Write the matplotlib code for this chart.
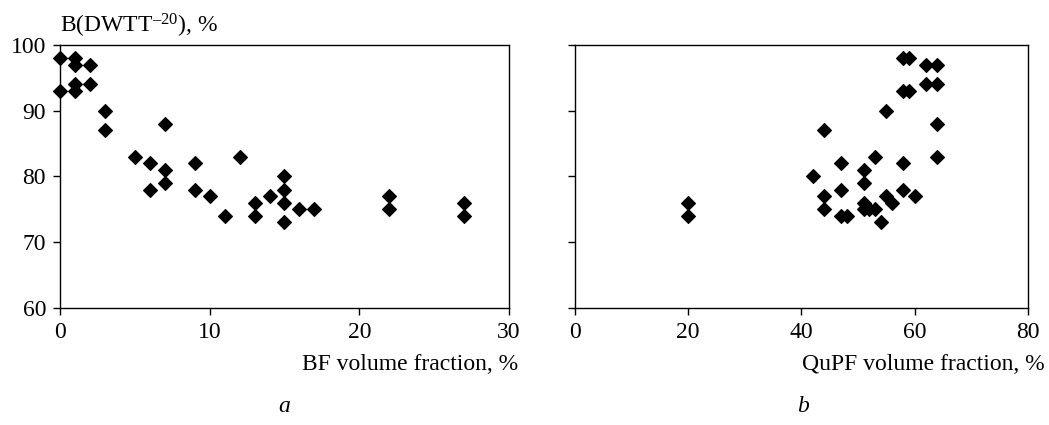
import matplotlib
matplotlib.use("Agg")
import matplotlib.pyplot as plt

plt.rcParams["font.family"] = ["Liberation Serif", "DejaVu Serif"]
plt.rcParams["font.size"] = 17
plt.rcParams["mathtext.fontset"] = "custom"
plt.rcParams["mathtext.rm"] = "Liberation Serif"
plt.rcParams["mathtext.it"] = "Liberation Serif:italic"

# (a) brittle fracture share vs bainitic ferrite fraction
bf_frac = [0, 0, 1, 1, 1, 1, 2, 2, 3, 3, 5, 6, 6, 7, 7, 7, 9, 9, 10, 11,
           12, 13, 13, 14, 15, 15, 15, 15, 16, 17, 22, 22, 27, 27]
bf_b = [98, 93, 98, 97, 94, 93, 97, 94, 90, 87, 83, 82, 78, 88, 81, 79, 82, 78, 77, 74,
        83, 76, 74, 77, 80, 78, 76, 73, 75, 75, 77, 75, 76, 74]

# (b) same vs quasi-polygonal ferrite fraction
qupf_frac = [20, 20, 42, 44, 44, 44, 47, 47, 47, 48, 51, 51, 51, 51, 52, 53, 53, 54,
             55, 55, 56, 58, 58, 58, 58, 59, 59, 60, 62, 62, 64, 64, 64, 64]
qupf_b = [76, 74, 80, 87, 77, 75, 82, 78, 74, 74, 81, 79, 76, 75, 75, 75, 83, 73,
          90, 77, 76, 98, 93, 82, 78, 98, 93, 77, 97, 94, 97, 94, 88, 83]

fig = plt.figure(figsize=(10.49, 4.25), dpi=100)
ax_a = fig.add_axes([0.0572, 0.2753, 0.428, 0.619])
ax_b = fig.add_axes([0.5479, 0.2753, 0.4321, 0.619])

for ax, x, y, xmax, xstep in [(ax_a, bf_frac, bf_b, 30, 10),
                              (ax_b, qupf_frac, qupf_b, 80, 20)]:
    ax.plot(x, y, linestyle="none", marker="D", markersize=7.2,
            markerfacecolor="black", markeredgecolor="black", markeredgewidth=0.8,
            clip_on=False)
    ax.set_xlim(0, xmax)
    ax.set_ylim(60, 100)
    ax.set_xticks(range(0, xmax + 1, xstep))
    ax.set_yticks(range(60, 101, 10))
    ax.tick_params(direction="out", length=5, width=1, pad=5, colors="black")
    for side in ["left", "bottom", "top", "right"]:
        ax.spines[side].set_linewidth(1.0)
        ax.spines[side].set_color("black")

ax_b.set_yticklabels([])

# y label with the test temperature as a superscript
ax_a.text(0.0, 1.046, r"B(DWTT$^{\mathrm{–20}}$), %", transform=ax_a.transAxes,
          ha="left", va="baseline")
ax_a.text(1.02, -0.237, "BF volume fraction, %", transform=ax_a.transAxes,
          ha="right", va="baseline")
ax_b.text(1.0375, -0.237, "QuPF volume fraction, %", transform=ax_b.transAxes,
          ha="right", va="baseline")

fig.text(284 / 1049, 1 - 407 / 425, "a", style="italic", ha="center", va="center")
fig.text(803 / 1049, 1 - 407 / 425, "b", style="italic", ha="center", va="center")

fig.savefig("out.png", dpi=100)
